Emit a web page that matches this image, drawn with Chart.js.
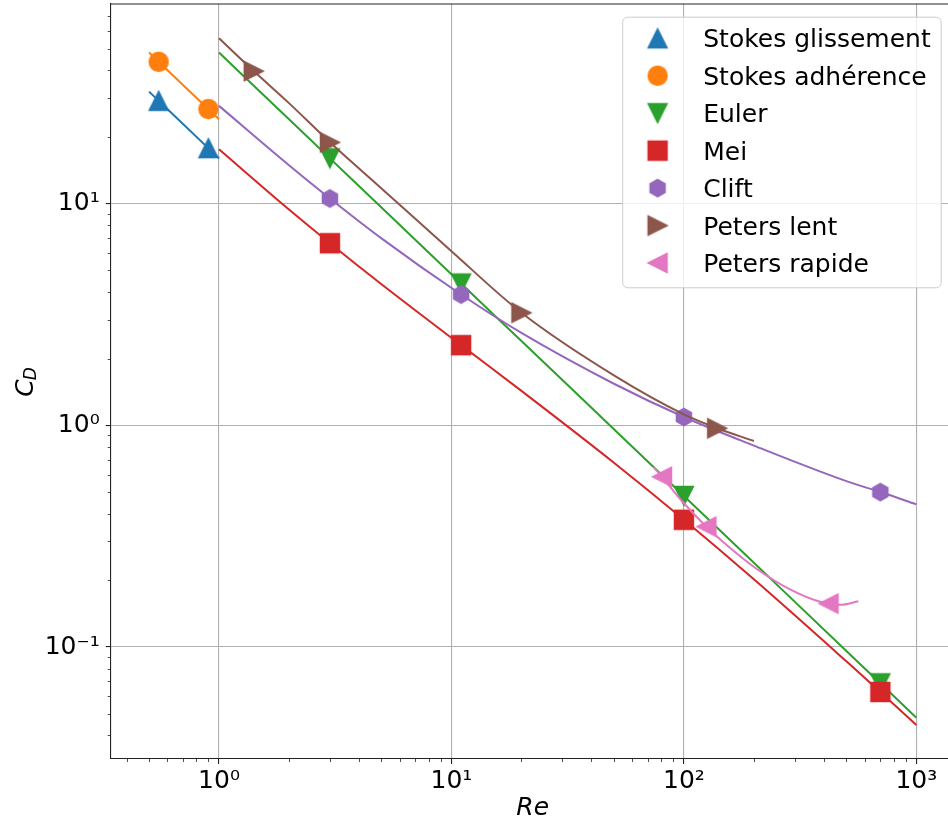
<!DOCTYPE html>
<html>
<head>
<meta charset="utf-8">
<script src="https://cdn.jsdelivr.net/npm/chart.js@4/dist/chart.umd.min.js"></script>
<style>
  html, body { margin: 0; padding: 0; background: #fff; overflow: hidden; }
  #wrap { width: 948px; height: 824px; overflow: hidden; }
  #chart { display: block; margin-top: -10px; }
</style>
</head>
<body>
<div id="wrap"><canvas id="chart" width="980" height="844"></canvas></div>
<script>
// Stokes laws, only drawn for 0.5 < Re < 1
const stokesRe = [0.5, 1];
const glissementCd = [32, 16];
const adherenceCd = [48, 24];
const stokesMarkRe = [0.55, 0.9];
const glissementMarkCd = [29.1, 17.8];
const adherenceMarkCd = [43.6, 26.7];

// Euler, Mei and Clift are sampled on the same Re values
const reGrid = [1, 2, 3, 5, 11, 20, 50, 100, 200, 500, 700, 1000];
const eulerCd = [48, 24, 16, 9.6, 4.36, 2.4, 0.96, 0.48, 0.24, 0.096, 0.0686, 0.048];
const meiCd = [17.6, 9.41, 6.63, 4.33, 2.30, 1.43, 0.678, 0.375, 0.202, 0.0862, 0.0627, 0.0445];
const cliftCd = [27.6, 14.9, 10.55, 6.97, 3.89, 2.61, 1.54, 1.09, 0.81, 0.56, 0.50, 0.44];
const markRe = [3, 11, 100, 700];
const eulerMarkCd = [16, 4.36, 0.48, 0.0686];
const meiMarkCd = [6.63, 2.30, 0.375, 0.0627];
const cliftMarkCd = [10.55, 3.89, 1.09, 0.50];

// Peters, low and high Re branches
const lentRe = [1, 1.41, 2, 3, 5, 10, 20, 50, 100, 139, 200];
const lentCd = [55.7, 39.6, 28.4, 18.9, 11.7, 6.1, 3.22, 1.68, 1.12, 0.97, 0.85];
const lentMarkRe = [1.41, 3, 20, 139];
const lentMarkCd = [39.6, 18.9, 3.22, 0.97];
const rapideRe = [74, 80.5, 100, 125, 160, 206, 286, 386, 470, 563];
const rapideCd = [0.65, 0.586, 0.445, 0.349, 0.277, 0.225, 0.182, 0.160, 0.155, 0.161];
const rapideMarkRe = [80.5, 125, 419];
const rapideMarkCd = [0.586, 0.349, 0.157];

const xTicks = [1, 10, 100, 1000];
const xTickLabels = ["10\u2070", "10\u00b9", "10\u00b2", "10\u00b3"];
const yTicks = [0.1, 1, 10];
const yTickLabels = ["10\u207b\u00b9", "10\u2070", "10\u00b9"];

const FONT = "DejaVu Sans";
const FS = 25;
// wanted plot box, in canvas pixels (the canvas sits 10px above the page top)
const PLOT = { left: 110.7, top: 14, right: 954.7, bottom: 769 };

function pts(xs, ys) {
    return xs.map((x, i) => ({ x: x, y: ys[i] }));
}

// matplotlib-like marker drawn once on a small canvas
function makeMarker(shape, color) {
    const s = 19, lw = 1.4;
    const n = 26;
    const c = document.createElement("canvas");
    c.width = n;
    c.height = n;
    const ctx = c.getContext("2d");
    ctx.translate(n / 2, n / 2);
    const h = s / 2;
    ctx.beginPath();
    if (shape === "o") {
        ctx.arc(0, 0, h, 0, Math.PI * 2);
    } else if (shape === "s") {
        ctx.rect(-h, -h, s, s);
    } else if (shape === "h") {
        const r = 8.7;
        for (let i = 0; i < 6; i++) {
            const a = -Math.PI / 2 + i * Math.PI / 3;
            ctx.lineTo(r * Math.cos(a), r * Math.sin(a));
        }
    } else {
        const rot = { "^": 0, ">": 90, "v": 180, "<": 270 }[shape] * Math.PI / 180;
        ctx.rotate(rot);
        ctx.moveTo(0, -h);
        ctx.lineTo(h, h);
        ctx.lineTo(-h, h);
    }
    ctx.closePath();
    ctx.fillStyle = color;
    ctx.fill();
    ctx.lineWidth = lw;
    ctx.lineJoin = "miter";
    ctx.strokeStyle = color;
    ctx.stroke();
    return c;
}

const series = [
    { label: "Stokes glissement", color: "#1f77b4", marker: "^", re: stokesRe, cd: glissementCd, mre: stokesMarkRe, mcd: glissementMarkCd },
    { label: "Stokes adhérence", color: "#ff7f0e", marker: "o", re: stokesRe, cd: adherenceCd, mre: stokesMarkRe, mcd: adherenceMarkCd },
    { label: "Euler", color: "#2ca02c", marker: "v", re: reGrid, cd: eulerCd, mre: markRe, mcd: eulerMarkCd },
    { label: "Mei", color: "#d62728", marker: "s", re: reGrid, cd: meiCd, mre: markRe, mcd: meiMarkCd },
    { label: "Clift", color: "#9467bd", marker: "h", re: reGrid, cd: cliftCd, mre: markRe, mcd: cliftMarkCd },
    { label: "Peters lent", color: "#8c564b", marker: ">", re: lentRe, cd: lentCd, mre: lentMarkRe, mcd: lentMarkCd },
    { label: "Peters rapide", color: "#e377c2", marker: "<", re: rapideRe, cd: rapideCd, mre: rapideMarkRe, mcd: rapideMarkCd },
];
series.forEach(s => { s.img = makeMarker(s.marker, s.color); });

// Chart.js draws the first dataset on top, so later series get a lower order
const datasets = [];
series.forEach((s, i) => {
    datasets.push({
        label: s.label,
        data: pts(s.re, s.cd),
        showLine: true,
        borderColor: s.color,
        borderWidth: 2,
        pointRadius: 0,
        cubicInterpolationMode: "monotone",
        order: -(2 * i),
    });
    datasets.push({
        label: s.label + " (points)",
        data: pts(s.mre, s.mcd),
        showLine: false,
        pointStyle: s.img,
        pointRadius: 10,
        backgroundColor: s.color,
        borderColor: s.color,
        order: -(2 * i + 1),
    });
});

function minorValues(min, max) {
    const out = [];
    for (let e = Math.floor(Math.log10(min)); e <= Math.ceil(Math.log10(max)); e++) {
        for (let k = 2; k <= 9; k++) {
            const v = k * Math.pow(10, e);
            if (v > min && v < max) out.push(v);
        }
    }
    return out;
}

function noPadding(scale) {
    scale.paddingLeft = 0;
    scale.paddingRight = 0;
    scale.paddingTop = 0;
    scale.paddingBottom = 0;
}

const extras = {
    id: "extras",
    afterDraw(chart) {
        const ctx = chart.ctx;
        const area = chart.chartArea;
        const xs = chart.scales.x, ys = chart.scales.y;
        ctx.save();

        // minor ticks
        ctx.strokeStyle = "#222";
        ctx.lineWidth = 0.8;
        ctx.beginPath();
        minorValues(xs.min, xs.max).forEach(v => {
            const px = Math.round(xs.getPixelForValue(v)) + 0.5;
            ctx.moveTo(px, area.bottom);
            ctx.lineTo(px, area.bottom + 3);
        });
        minorValues(ys.min, ys.max).forEach(v => {
            const py = Math.round(ys.getPixelForValue(v)) + 0.5;
            ctx.moveTo(area.left, py);
            ctx.lineTo(area.left - 3, py);
        });
        ctx.stroke();

        // top and right spines
        ctx.lineWidth = 1.1;
        ctx.beginPath();
        ctx.moveTo(area.left, area.top);
        ctx.lineTo(area.right, area.top);
        ctx.lineTo(area.right, area.bottom);
        ctx.stroke();

        // y axis title: C with subscript D
        ctx.fillStyle = "#000";
        ctx.translate(33, (area.top + area.bottom) / 2);
        ctx.rotate(-Math.PI / 2);
        ctx.textBaseline = "alphabetic";
        ctx.font = "italic " + FS + "px '" + FONT + "'";
        const wC = ctx.measureText("C").width;
        ctx.font = "italic 17px '" + FONT + "'";
        const wD = ctx.measureText("D").width;
        const start = -(wC + wD) / 2;
        ctx.font = "italic " + FS + "px '" + FONT + "'";
        ctx.fillText("C", start, 0);
        ctx.font = "italic 17px '" + FONT + "'";
        ctx.fillText("D", start + wC - 1, 2.5);
        ctx.restore();

        // legend box in the upper right corner
        ctx.save();
        ctx.font = FS + "px '" + FONT + "'";
        const textW = Math.max(...series.map(s => ctx.measureText(s.label).width));
        const rowGap = 37.45;
        const w = 35.4 + 45.6 + textW + 10;
        const h = 270.6;
        const x0 = area.right - 14 - w;
        const y0 = area.top + 12.7;
        ctx.beginPath();
        ctx.roundRect(x0 + 0.5, y0 + 0.5, w, h, 5);
        ctx.fillStyle = "rgba(255,255,255,0.8)";
        ctx.fill();
        ctx.strokeStyle = "#cccccc";
        ctx.lineWidth = 1;
        ctx.stroke();
        ctx.fillStyle = "#000";
        ctx.textBaseline = "alphabetic";
        series.forEach((s, i) => {
            const cy = y0 + 21.6 + i * rowGap;
            ctx.drawImage(s.img, x0 + 35.4 - s.img.width / 2, cy - s.img.height / 2);
            ctx.fillText(s.label, x0 + 81, cy + 9);
        });
        ctx.restore();
    },
};

Chart.defaults.font.family = FONT;
Chart.defaults.color = "#000";

const gridStyle = { color: "#b0b0b0", lineWidth: 1.1, tickLength: 5, tickColor: "#222", tickWidth: 1.1 };

const chart = new Chart(document.getElementById("chart"), {
    type: "scatter",
    data: { datasets: datasets },
    plugins: [extras],
    options: {
        responsive: false,
        devicePixelRatio: 1,
        animation: false,
        events: [],
        layout: { padding: { top: PLOT.top, right: 980 - PLOT.right, left: 0, bottom: 844 - PLOT.bottom - 65 } },
        plugins: {
            legend: { display: false },
            tooltip: { enabled: false },
        },
        scales: {
            x: {
                type: "logarithmic",
                position: "bottom",
                bounds: "data",
                min: 0.342,
                max: 1462,
                afterBuildTicks: (scale) => { scale.ticks = xTicks.map(v => ({ value: v, major: true })); },
                afterFit: (scale) => { scale.height = 65; noPadding(scale); },
                ticks: {
                    font: { size: FS },
                    color: "#000",
                    padding: 2,
                    maxRotation: 0,
                    autoSkip: false,
                    callback: (value) => xTickLabels[xTicks.indexOf(value)] ?? "",
                },
                grid: gridStyle,
                border: { color: "#222", width: 1.1 },
                title: {
                    display: true,
                    text: "Re",
                    color: "#000",
                    font: { size: FS, style: "italic" },
                    padding: { top: 0, bottom: 1 },
                },
            },
            y: {
                type: "logarithmic",
                bounds: "data",
                min: 0.03126,
                max: 79.5,
                afterBuildTicks: (scale) => { scale.ticks = yTicks.map(v => ({ value: v, major: true })); },
                afterFit: (scale) => { scale.width = 110.7; noPadding(scale); },
                ticks: {
                    font: { size: FS },
                    color: "#000",
                    padding: 6,
                    autoSkip: false,
                    callback: (value) => yTickLabels[yTicks.indexOf(value)] ?? "",
                },
                grid: gridStyle,
                border: { color: "#222", width: 1.1 },
            },
        },
    },
});

// nudge the layout padding until the plot box lands where it should
for (let k = 0; k < 3; k++) {
    const a = chart.chartArea;
    const pad = chart.options.layout.padding;
    pad.top += PLOT.top - a.top;
    pad.left += PLOT.left - a.left;
    pad.right += a.right - PLOT.right;
    pad.bottom += a.bottom - PLOT.bottom;
    chart.update();
}
</script>
</body>
</html>
